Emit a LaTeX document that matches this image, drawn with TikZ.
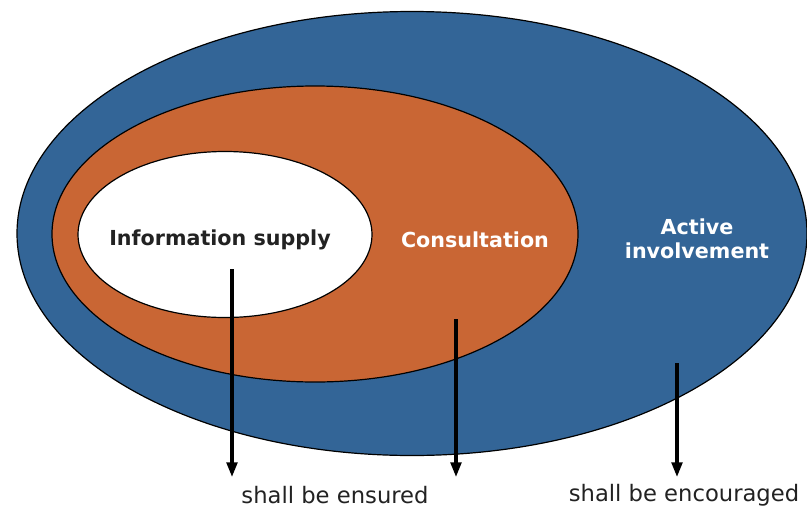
\documentclass[tikz,border=0pt]{standalone}
\usepackage{fontspec}
\setmainfont{DejaVu Sans}
\usepackage{tikz}
\usetikzlibrary{arrows.meta}
\definecolor{involveblue}{RGB}{51,101,151}
\definecolor{consultorange}{RGB}{201,102,52}
\definecolor{labelgrey}{RGB}{34,34,34}

\begin{document}
\begin{tikzpicture}[x=0.75pt,y=0.75pt,yscale=-1,xscale=1,
  ring/.style={draw=black, line width=0.9pt},
  flow/.style={line width=2.4pt, -{Triangle[length=11pt,width=8pt]}},
  lbl/.style={inner sep=0.75pt, font=\bfseries\fontsize{15.5}{18}\selectfont},
  note/.style={inner sep=0.75pt, text=labelgrey, font=\fontsize{17}{20}\selectfont}]
\useasboundingbox (0,0) rectangle (807,507);

%Shape: Ellipse [outer]
\draw [ring, fill=involveblue] (412,233.5) ellipse [x radius=395, y radius=222];
%Shape: Ellipse [middle]
\draw [ring, fill=consultorange] (315,234) ellipse [x radius=263, y radius=148];
%Shape: Ellipse [inner]
\draw [ring, fill=white] (225,234.5) ellipse [x radius=147, y radius=83];

% Text Node
\node [lbl, text=labelgrey] (info) at (220,240) {Information supply};
% Text Node
\node [lbl, text=white] (consult) at (475,240) {Consultation};
% Text Node
\node [lbl, text=white, align=center] (active) at (697,239) {Active\\involvement};

% Text Node
\node [note] (ensured) at (335,495) {shall be ensured};
% Text Node
\node [note] (encouraged) at (684,495) {shall be encouraged};

%Straight Lines
\coordinate (infoTop) at (232,269);
\coordinate (infoEnd) at (232,477);
\draw [flow] (infoTop) -- (infoEnd);
%Straight Lines
\coordinate (consultTop) at (456,319);
\coordinate (consultEnd) at (456,477);
\draw [flow] (consultTop) -- (consultEnd);
%Straight Lines
\coordinate (activeTop) at (677,363);
\coordinate (activeEnd) at (677,477);
\draw [flow] (activeTop) -- (activeEnd);

\end{tikzpicture}
\end{document}
